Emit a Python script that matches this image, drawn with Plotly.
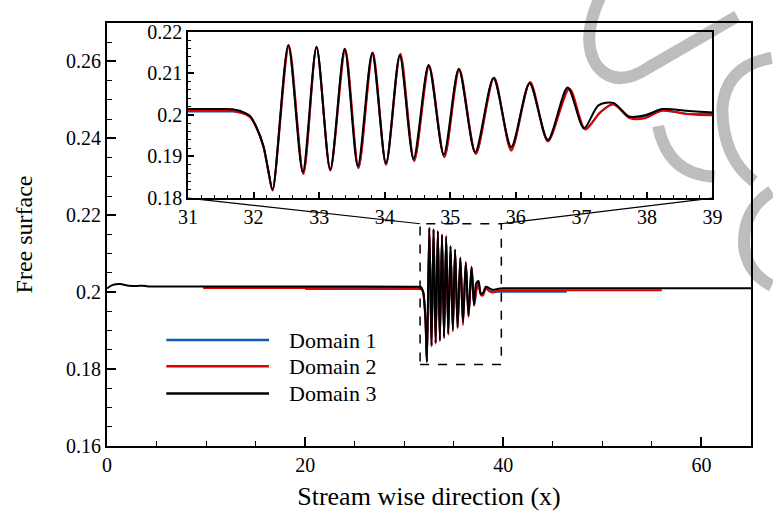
import plotly.graph_objects as go

# ---------------- data ----------------
D1_X = [20, 31.0, 31.5, 31.7, 31.87, 31.95, 32.04, 32.15, 32.22, 32.29,
        32.53, 32.76, 32.96, 33.17, 33.39, 33.60, 33.81, 34.02, 34.23, 34.45,
        34.67, 34.91, 35.13, 35.39, 35.66, 35.93, 36.21, 36.49, 36.80, 37.05,
        37.29, 37.49, 37.74, 37.97, 38.24, 38.6, 39.0, 39.5, 40, 46.4]
D1_Y = [0.2008, 0.2008, 0.2008, 0.2008, 0.2002, 0.1994, 0.1971, 0.1924, 0.1869, 0.1819,
        0.2165, 0.1860, 0.2163, 0.1867, 0.2158, 0.1872, 0.2148, 0.1880, 0.2144, 0.1890,
        0.2119, 0.1898, 0.2110, 0.1907, 0.2088, 0.1918, 0.2077, 0.1936, 0.2065, 0.1966,
        0.2006, 0.2027, 0.1995, 0.1996, 0.2010, 0.2003, 0.2002, 0.2001, 0.2001, 0.2001]

D2_X = [9.7, 20, 31.0, 31.5, 31.7, 31.87, 31.95, 32.04, 32.15, 32.22,
        32.29, 32.54, 32.76, 32.96, 33.17, 33.40, 33.60, 33.82, 34.02, 34.24,
        34.45, 34.68, 34.91, 35.14, 35.39, 35.67, 35.93, 36.22, 36.49, 36.82,
        37.06, 37.29, 37.49, 37.74, 37.97, 38.24, 38.6, 39.0, 39.5, 40,
        45, 50, 56]
D2_Y = [0.2011, 0.2011, 0.2011, 0.2010, 0.2009, 0.2002, 0.1994, 0.1970, 0.1923, 0.1868,
        0.1818, 0.2166, 0.1858, 0.2162, 0.1866, 0.2157, 0.1873, 0.2150, 0.1881, 0.2147,
        0.1889, 0.2118, 0.1899, 0.2109, 0.1906, 0.2090, 0.1914, 0.2079, 0.1937, 0.2063,
        0.1965, 0.2007, 0.2025, 0.1992, 0.1992, 0.2011, 0.2002, 0.1999, 0.2004, 0.2005,
        0.2005, 0.2005, 0.2005]

D3_X = [0, 0.6, 1.3, 2.2, 3.0, 3.6, 4.2, 10, 20, 31.0,
        31.5, 31.7, 31.87, 31.95, 32.04, 32.15, 32.22, 32.29, 32.53, 32.75,
        32.96, 33.17, 33.39, 33.59, 33.81, 34.02, 34.23, 34.44, 34.67, 34.90,
        35.13, 35.38, 35.66, 35.93, 36.21, 36.49, 36.79, 37.04, 37.26, 37.49,
        37.72, 37.97, 38.24, 38.6, 39.0, 39.5, 40, 45, 55, 65]
D3_Y = [0.2010, 0.2019, 0.2021, 0.2017, 0.2016, 0.2017, 0.2015, 0.2015, 0.2015, 0.2014,
        0.2014, 0.2013, 0.2005, 0.1997, 0.1972, 0.1926, 0.1871, 0.1820, 0.2168, 0.1862,
        0.2164, 0.1869, 0.2159, 0.1877, 0.2149, 0.1884, 0.2143, 0.1894, 0.2120, 0.1904,
        0.2111, 0.1910, 0.2089, 0.1923, 0.2076, 0.1940, 0.2066, 0.1968, 0.2023, 0.2029,
        0.1996, 0.1999, 0.2014, 0.2010, 0.2006, 0.2009, 0.2010, 0.2010, 0.2010, 0.2010]

SERIES_NAMES = ["Domain 1", "Domain 2", "Domain 3"]

X_RANGE = [0, 65]
Y_RANGE = [0.16, 0.27]
X_TICKS = [0, 20, 40, 60]
X_TICK_LABELS = ["0", "20", "40", "60"]
Y_TICKS = [0.16, 0.18, 0.20, 0.22, 0.24, 0.26]
Y_TICK_LABELS = ["0.16", "0.18", "0.2", "0.22", "0.24", "0.26"]

INSET_X_RANGE = [31, 39]
INSET_Y_RANGE = [0.18, 0.22]
INSET_X_TICKS = [31, 32, 33, 34, 35, 36, 37, 38, 39]
INSET_X_TICK_LABELS = ["31", "32", "33", "34", "35", "36", "37", "38", "39"]
INSET_Y_TICKS = [0.18, 0.19, 0.20, 0.21, 0.22]
INSET_Y_TICK_LABELS = ["0.18", "0.19", "0.2", "0.21", "0.22"]

ZOOM_BOX_X = [31.6, 39.8]
ZOOM_BOX_Y = [0.1812, 0.2178]

X_TITLE = "Stream wise direction (x)"
Y_TITLE = "Free surface"

# ---------------- style ----------------
COLORS = ["#0a5cb0", "#e00000", "#000000"]
FONT = "Liberation Serif, Times New Roman, serif"
W, H = 773, 518
ML, MR, MT, MB = 107, 14, 22, 61
INSET_XDOM = [0.1258, 0.9402]
INSET_YDOM = [0.5862, 0.9793]

fig = go.Figure()
series = [(D1_X, D1_Y), (D2_X, D2_Y), (D3_X, D3_Y)]
for (xs, ys), name, col in zip(series, SERIES_NAMES, COLORS):
    fig.add_trace(go.Scatter(x=xs, y=ys, mode="lines", name=name,
                             line=dict(color=col, width=2, shape="spline", smoothing=0.8),
                             xaxis="x", yaxis="y", showlegend=False))
for (xs, ys), name, col in zip(series, SERIES_NAMES, COLORS):
    fig.add_trace(go.Scatter(x=xs, y=ys, mode="lines", name=name,
                             line=dict(color=col, width=2, shape="spline", smoothing=0.8),
                             xaxis="x2", yaxis="y2", showlegend=False))

axis_common = dict(showline=True, linecolor="black", mirror=True, showgrid=False,
                   zeroline=False, ticks="inside", tickcolor="black",
                   tickfont=dict(family=FONT, size=20, color="black"))

fig.update_layout(
    width=W, height=H, autosize=False,
    margin=dict(l=ML, r=MR, t=MT, b=MB),
    paper_bgcolor="white", plot_bgcolor="rgba(0,0,0,0)",
    font=dict(family=FONT, color="black"),
    showlegend=False,
    xaxis=dict(axis_common, domain=[0, 1], range=X_RANGE, linewidth=2,
               tickvals=X_TICKS, ticktext=X_TICK_LABELS, ticklen=9, tickwidth=2,
               minor=dict(ticks="inside", dtick=5, tick0=0, ticklen=5, tickwidth=1, tickcolor="black"),
               title=dict(text=X_TITLE, font=dict(family=FONT, size=26), standoff=12)),
    yaxis=dict(axis_common, domain=[0, 1], range=Y_RANGE, linewidth=2,
               tickvals=Y_TICKS, ticktext=Y_TICK_LABELS, ticklen=9, tickwidth=2,
               minor=dict(ticks="inside", dtick=0.005, tick0=0.16, ticklen=5, tickwidth=1, tickcolor="black"),
               title=dict(text=Y_TITLE, font=dict(family=FONT, size=24), standoff=27)),
    xaxis2=dict(axis_common, domain=INSET_XDOM, range=INSET_X_RANGE, anchor="y2", linewidth=1.5,
                tickvals=INSET_X_TICKS, ticktext=INSET_X_TICK_LABELS, ticklen=6, tickwidth=1.5,
                minor=dict(ticks="inside", dtick=0.2, tick0=31, ticklen=3, tickwidth=1, tickcolor="black")),
    yaxis2=dict(axis_common, domain=INSET_YDOM, range=INSET_Y_RANGE, anchor="x2", linewidth=1.5,
                tickvals=INSET_Y_TICKS, ticktext=INSET_Y_TICK_LABELS, ticklen=6, tickwidth=1.5,
                minor=dict(ticks="inside", dtick=0.002, tick0=0.18, ticklen=3, tickwidth=1, tickcolor="black")),
)

pw, ph = W - ML - MR, H - MT - MB
def px(xp):
    return (xp - ML) / pw
def py(yp):
    return (H - MB - yp) / ph

# grey watermark strokes (page decoration), in pixel positions
WATERMARK_STROKES = [
    [("M", 606, -4), ("Q", 586, 40, 603, 66), ("Q", 622, 90, 655, 68), ("L", 745, 15)],
    [("M", 780, 58), ("Q", 733, 66, 730, 110), ("Q", 730, 160, 762, 185)],
    [("M", 665, 128), ("Q", 675, 178, 722, 180)],
    [("M", 780, 195), ("Q", 750, 215, 752, 252), ("Q", 756, 280, 780, 292)],
]
for stroke in WATERMARK_STROKES:
    parts = []
    for seg in stroke:
        cmd, coords = seg[0], seg[1:]
        pts = []
        for i in range(0, len(coords), 2):
            pts.append(f"{px(coords[i]):.4f},{py(coords[i + 1]):.4f}")
        parts.append(cmd + " " + " ".join(pts))
    fig.add_shape(type="path", xref="paper", yref="paper", path=" ".join(parts),
                  line=dict(color="#bdbdbd", width=12), layer="below")

# zoom box and connector lines (main data coords)
fig.add_shape(type="rect", xref="x", yref="y",
              x0=ZOOM_BOX_X[0], x1=ZOOM_BOX_X[1], y0=ZOOM_BOX_Y[0], y1=ZOOM_BOX_Y[1],
              line=dict(color="black", width=1.5, dash="dash"))
corner_y = Y_RANGE[0] + INSET_YDOM[0] * (Y_RANGE[1] - Y_RANGE[0])
corner_xl = X_RANGE[0] + INSET_XDOM[0] * (X_RANGE[1] - X_RANGE[0])
corner_xr = X_RANGE[0] + INSET_XDOM[1] * (X_RANGE[1] - X_RANGE[0])
fig.add_shape(type="line", xref="x", yref="y", x0=ZOOM_BOX_X[0], y0=ZOOM_BOX_Y[1],
              x1=corner_xl, y1=corner_y, line=dict(color="black", width=1.2))
fig.add_shape(type="line", xref="x", yref="y", x0=ZOOM_BOX_X[1], y0=ZOOM_BOX_Y[1],
              x1=corner_xr, y1=corner_y, line=dict(color="black", width=1.2))

# manual legend
legend_rows = [348, 375, 403]
for name, col, yr in zip(SERIES_NAMES, COLORS, legend_rows):
    fig.add_shape(type="line", xref="paper", yref="paper", x0=px(167), x1=px(271),
                  y0=py(yr), y1=py(yr), line=dict(color=col, width=2.5))
    fig.add_annotation(xref="paper", yref="paper", x=px(289), y=py(yr), text=name,
                       showarrow=False, xanchor="left", yanchor="middle",
                       font=dict(family=FONT, size=22, color="black"))

fig.write_html("out.html")
